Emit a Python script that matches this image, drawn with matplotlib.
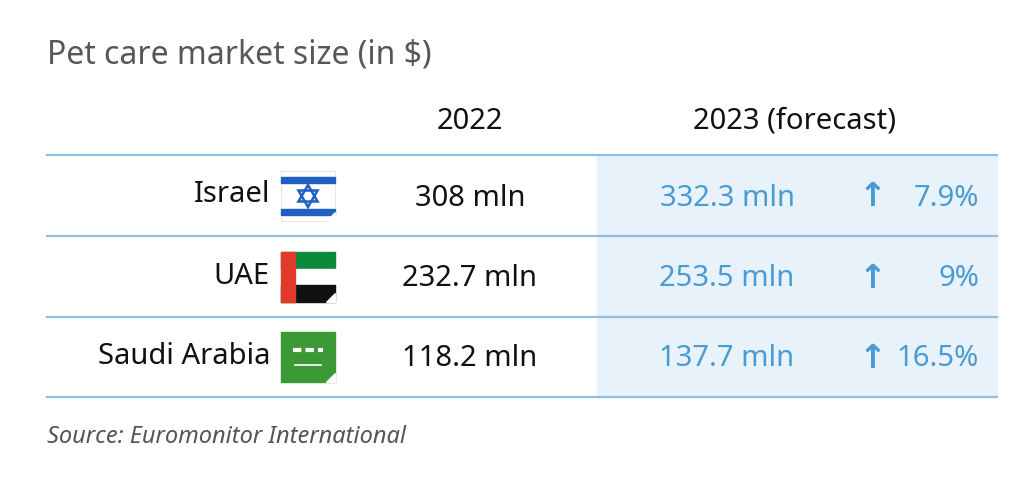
import matplotlib.pyplot as plt
from matplotlib.patches import Rectangle, Polygon, RegularPolygon

plt.rcParams['font.family'] = ['Noto Sans', 'DejaVu Sans']

title = "Pet care market size (in $)"
headers = ["2022", "2023 (forecast)"]
countries = ["Israel", "UAE", "Saudi Arabia"]
size_2022 = [308, 232.7, 118.2]
size_2023 = [332.3, 253.5, 137.7]
growth = ["7.9%", "9%", "16.5%"]
source = "Source: Euromonitor International"

W, H = 1026, 478
fig = plt.figure(figsize=(W / 100, H / 100), dpi=100)
ax = fig.add_axes([0, 0, 1, 1])
ax.set_xlim(0, W)
ax.set_ylim(H, 0)
ax.axis('off')

blue = '#4a9bd1'
line = '#8fc0e3'
ax.add_patch(Rectangle((597, 155), 400, 242, color='#e8f2fb', zorder=0))

ax.text(47, 55, title, fontsize=23, fontweight='bold', color='#575757', va='center')
ax.text(470, 121, headers[0], fontsize=21, ha='center', va='center', color='#111')
ax.text(795, 121, headers[1], fontsize=21, ha='center', va='center', color='#111')

rows_y = [196, 277, 357]
for y in [155, 236, 317, 397]:
    ax.plot([47, 997], [y, y], color=line, lw=1.6, zorder=1)


def flag(i, x0, y0, w=54, h=50):
    if i == 0:
        ax.add_patch(Rectangle((x0, y0), w, h, color='white', ec='#ddd', lw=0.5, zorder=2))
        ax.add_patch(Rectangle((x0, y0 + 6), w, 6, color='#1f5fc4', zorder=3))
        ax.add_patch(Rectangle((x0, y0 + h - 12), w, 6, color='#1f5fc4', zorder=3))
        for ang in (0, 3.14159):
            ax.add_patch(RegularPolygon((x0 + w / 2, y0 + h / 2), 3, radius=11, orientation=ang,
                                        fill=False, ec='#1f5fc4', lw=1.8, zorder=3))
    elif i == 1:
        ax.add_patch(Rectangle((x0, y0), w, h / 3, color='#0a8a3a', zorder=2))
        ax.add_patch(Rectangle((x0, y0 + h / 3), w, h / 3, color='white', zorder=2))
        ax.add_patch(Rectangle((x0, y0 + 2 * h / 3), w, h / 3, color='#111', zorder=2))
        ax.add_patch(Rectangle((x0, y0), w * 0.26, h, color='#e23a2a', zorder=3))
    else:
        ax.add_patch(Rectangle((x0, y0), w, h, color='#3b9a35', zorder=2))
        ax.plot([x0 + 12, x0 + 42], [y0 + h * 0.36] * 2, color='white', lw=3, ls=(0, (2, 1)),
                zorder=3)
        ax.plot([x0 + 14, x0 + 40], [y0 + h * 0.66] * 2, color='white', lw=1.2, zorder=3)
    # folded corner
    ax.add_patch(Polygon([(x0 + w - 9, y0 + h), (x0 + w, y0 + h), (x0 + w, y0 + h - 9)],
                         color='white', zorder=4))


for i, y in enumerate(rows_y):
    ax.text(270, y - 1, countries[i], fontsize=21, ha='right', va='center', color='#111')
    flag(i, 281, y - 25)
    ax.text(470, y + 2, f"{size_2022[i]:g} mln", fontsize=21, ha='center', va='center', color='#111')
    ax.text(727, y + 2, f"{size_2023[i]:g} mln", fontsize=21, ha='center', va='center', color=blue)
    ax.text(873, y + 1, "↑", fontsize=24, fontweight='bold', ha='center', va='center', color=blue,
            family=['DejaVu Sans'])
    ax.text(979, y + 2, growth[i], fontsize=21, ha='right', va='center', color=blue)

ax.text(47, 437, source, fontsize=17, style='italic', color='#555', va='center')

fig.savefig("out.png", dpi=100)
